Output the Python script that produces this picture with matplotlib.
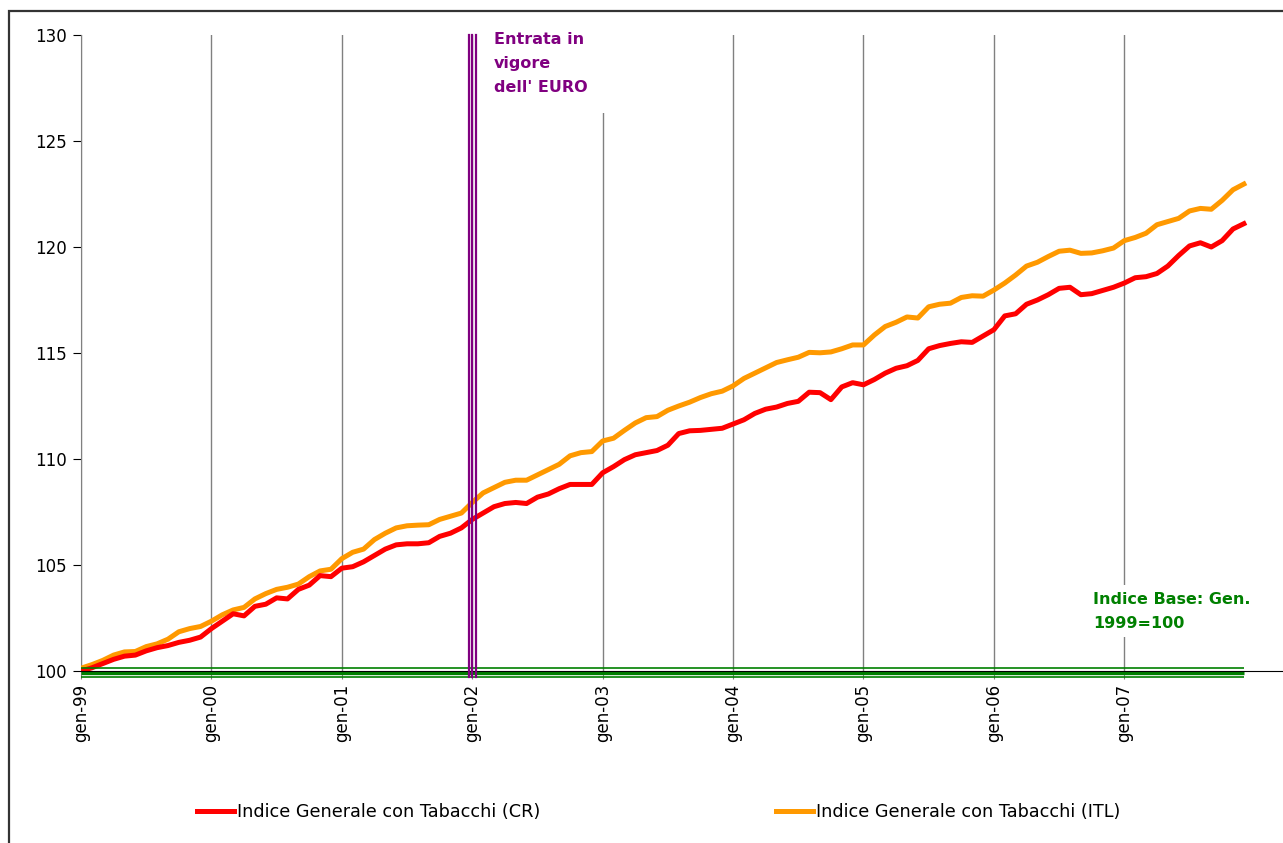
import numpy as np
import matplotlib.pyplot as plt
from matplotlib.patches import Rectangle

plt.rcParams['font.family'] = ['DejaVu Sans']

# monthly index values, gen-99 .. dic-07 (base gen-1999 = 100)
cr = [100.0, 100.15, 100.35, 100.55, 100.7, 100.75, 100.95, 101.1, 101.2, 101.35, 101.45, 101.6,
      102.0, 102.35, 102.7, 102.6, 103.05, 103.15, 103.45, 103.4, 103.85, 104.05, 104.5, 104.45,
      104.85, 104.92, 105.15, 105.45, 105.75, 105.95, 106.0, 106.0, 106.05, 106.35, 106.5, 106.75,
      107.15, 107.45, 107.75, 107.9, 107.95, 107.9, 108.2, 108.35, 108.6, 108.8, 108.8, 108.8,
      109.35, 109.64, 109.97, 110.2, 110.3, 110.4, 110.65, 111.2, 111.33, 111.35, 111.4, 111.45,
      111.65, 111.85, 112.15, 112.35, 112.45, 112.62, 112.72, 113.15, 113.13, 112.8, 113.4, 113.6,
      113.5, 113.75, 114.05, 114.28, 114.4, 114.65, 115.2, 115.35, 115.45, 115.53, 115.5, 115.8,
      116.1, 116.75, 116.85, 117.3, 117.5, 117.75, 118.05, 118.1, 117.75, 117.8, 117.95, 118.1,
      118.3, 118.55, 118.6, 118.75, 119.1, 119.6, 120.05, 120.2, 120.0, 120.3, 120.85, 121.1]

itl = [100.13, 100.3, 100.5, 100.75, 100.9, 100.92, 101.15, 101.28, 101.5, 101.85, 102.0, 102.1,
       102.35, 102.65, 102.88, 103.0, 103.4, 103.65, 103.85, 103.95, 104.1, 104.45, 104.72, 104.8,
       105.3, 105.6, 105.75, 106.2, 106.5, 106.75, 106.85, 106.88, 106.9, 107.15, 107.3, 107.45,
       107.95, 108.4, 108.65, 108.9, 109.0, 109.0, 109.25, 109.5, 109.75, 110.15, 110.3, 110.35,
       110.85, 110.98, 111.35, 111.7, 111.95, 112.0, 112.3, 112.5, 112.68, 112.9, 113.08, 113.2,
       113.45, 113.8, 114.05, 114.3, 114.55, 114.68, 114.8, 115.03, 115.01, 115.05, 115.2, 115.38,
       115.38, 115.85, 116.25, 116.45, 116.7, 116.65, 117.18, 117.3, 117.35, 117.62, 117.7, 117.68,
       117.97, 118.3, 118.68, 119.1, 119.28, 119.55, 119.8, 119.85, 119.7, 119.72, 119.82, 119.95,
       120.3, 120.45, 120.65, 121.05, 121.2, 121.35, 121.7, 121.82, 121.78, 122.2, 122.7, 122.97]

year_labels = ['gen-99', 'gen-00', 'gen-01', 'gen-02', 'gen-03', 'gen-04', 'gen-05', 'gen-06', 'gen-07']
year_pos = [0, 12, 24, 36, 48, 60, 72, 84, 96]

euro_marks = [35.7, 36.0, 36.35]      # "Entrata in vigore dell' EURO" (triple line)
base_levels = [100.13, 99.9, 99.71]   # base line gen-1999 = 100 (compound line)
base_widths = [1.2, 2.4, 1.2]

months = np.arange(len(cr))

fig = plt.figure(figsize=(12.83, 8.43), dpi=100)
ax = fig.add_axes([81/1283, 1 - 671/843, 1 - 81/1283, (671 - 35)/843])

# outer chart frame
fig.patches.append(Rectangle((9/1283, -0.1), 1.2, 1.1 - 11/843, transform=fig.transFigure,
                             fill=False, edgecolor='#333333', linewidth=1.6))

ax.set_xlim(0, 110.6)
ax.set_ylim(100, 130)
ax.set_xticks(year_pos)
ax.set_xticklabels(year_labels, rotation=90, fontsize=12)
ax.set_yticks(np.arange(100, 131, 5))
ax.tick_params(axis='y', labelsize=12, length=6, color='black', pad=4)
ax.tick_params(axis='x', length=6, color='#808080', pad=3)

ax.set_axisbelow(True)
ax.grid(axis='x', color='#808080', linewidth=1)
for s in ['top', 'right']:
    ax.spines[s].set_visible(False)
ax.spines['left'].set_color('#808080')
ax.spines['bottom'].set_color('black')
ax.spines['bottom'].set_zorder(6)

for lvl, w in zip(base_levels, base_widths):
    ax.plot([months[0], months[-1]], [lvl, lvl], color='#008000', linewidth=w,
            clip_on=False, zorder=5, solid_capstyle='butt')

for xm in euro_marks:
    ax.plot([xm, xm], [99.7, 130], color='#800080', linewidth=1.6, clip_on=False, zorder=8)

ax.plot(months, cr, color='#FF0000', linewidth=3.6, label='Indice Generale con Tabacchi (CR)', zorder=4)
ax.plot(months, itl, color='#FF9900', linewidth=3.6, label='Indice Generale con Tabacchi (ITL)', zorder=3)

ax.text(38.0, 130.15, "Entrata in\nvigore\ndell' EURO", color='#800080', fontsize=11.5,
        fontweight='bold', va='top', ha='left', linespacing=1.75, zorder=7,
        bbox=dict(boxstyle='square,pad=1.15', facecolor='white', edgecolor='none'))
ax.text(93.1, 103.75, "Indice Base: Gen.\n1999=100", color='#008000', fontsize=11.5,
        fontweight='bold', va='top', ha='left', linespacing=1.75, zorder=7,
        bbox=dict(facecolor='white', edgecolor='none', pad=5))

fig.legend(loc='center left', bbox_to_anchor=(188/1283, 1 - 812/843), ncol=2, frameon=False,
           fontsize=12.7, handlelength=2.1, handletextpad=0.15, columnspacing=13.4, borderpad=0)

fig.savefig('out.png', dpi=100)
